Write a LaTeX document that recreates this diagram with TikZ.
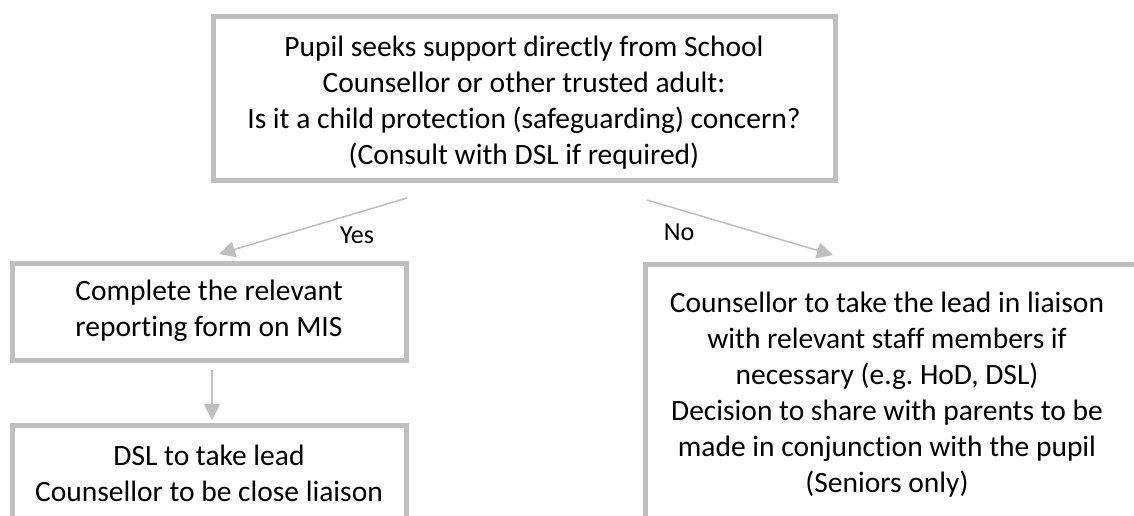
\documentclass[tikz,border=0pt]{standalone}
\usepackage{fontspec}
\setmainfont{Carlito}[Ligatures={NoCommon}]
\usetikzlibrary{arrows.meta}
\definecolor{boxgray}{HTML}{BFBFBF}
\newcommand{\mainfs}{\fontsize{29.5pt}{36pt}\selectfont\frenchspacing}
\newcommand{\labelfs}{\fontsize{26pt}{31pt}\selectfont}
\begin{document}
\begin{tikzpicture}[x=1pt,y=-1pt,
  box/.style={draw=boxgray, line width=5pt, outer sep=0pt, inner sep=0pt},
  txt/.style={inner sep=0pt, align=center, font=\mainfs, text=black},
  lbl/.style={inner sep=0pt, font=\labelfs, text=black},
  arr/.style={draw=boxgray, line width=1.5pt, -{Triangle[length=16pt,width=16pt]}}]
\useasboundingbox (0,0) rectangle (1134,515);
\clip (0,0) rectangle (1134,515);
\fill[white] (0,0) rectangle (1134,515);

% boxes
\node[box, minimum width=622pt, minimum height=164pt] (top) at (524,98) {};
\node[box, minimum width=394pt, minimum height=97pt] (b1) at (209,311.5) {};
\node[box, minimum width=394pt, minimum height=120pt] (b2) at (209,485) {};
\node[box, minimum width=495pt, minimum height=280pt] (rb) at (892.5,404) {};

% texts
\node[txt] (toptxt) at (524,102.5) {Pupil seeks support directly from School\\Counsellor or other trusted adult:\\Is it a child protection (safeguarding) concern?\\(Consult with DSL if required)};
\node[txt] (b1txt) at (209,310.5) {Complete the relevant\\reporting form on MIS};
\node[txt] (b2txt) at (209,473) {DSL to take lead\\Counsellor to be close liaison};
\node[txt] (rbtxt) at (887,394.5) {Counsellor to take the lead in liaison\\with relevant staff members if\\necessary (e.g. HoD, DSL)\\Decision to share with parents to be\\made in conjunction with the pupil\\(Seniors only)};

% connectors
\draw[arr] ([xshift=-117pt,yshift=-18pt]top.south) -- ([xshift=10pt,yshift=9pt]b1.north);
\draw[arr] ([xshift=123pt,yshift=-20pt]top.south) -- ([xshift=188pt,yshift=9pt]rb.north west);
\draw[arr] ([xshift=3pt,yshift=-10pt]b1.south) -- ([xshift=3pt,yshift=5pt]b2.north);

% labels
\node[lbl] (yes) at (357,235) {Yes};
\node[lbl] (no) at (679,232) {No};
\end{tikzpicture}
\end{document}
